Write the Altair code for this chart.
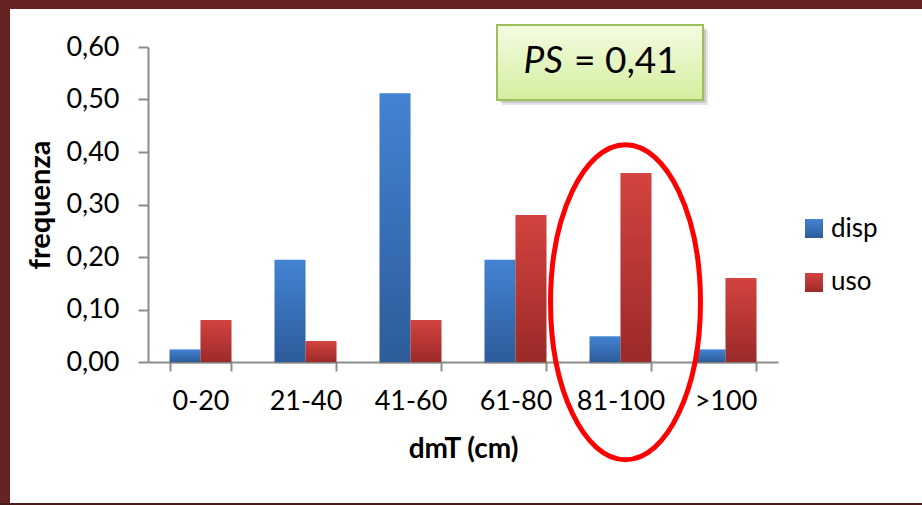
import altair as alt
import pandas as pd

# dmT classes and relative frequencies (available vs used)
classi = ["0-20", "21-40", "41-60", "61-80", "81-100", ">100"]
disp = [0.024, 0.195, 0.512, 0.195, 0.049, 0.024]
uso = [0.08, 0.04, 0.08, 0.28, 0.36, 0.16]
serie = ["disp", "uso"]
y_ticks = [0.0, 0.1, 0.2, 0.3, 0.4, 0.5, 0.6]
ps_name = "PS"
ps_value = "= 0,41"
evidenziata = "81-100"
ellisse_y = [0.114]

rows = [{"classe": c, "serie": "disp", "freq": v} for c, v in zip(classi, disp)]
rows += [{"classe": c, "serie": "uso", "freq": v} for c, v in zip(classi, uso)]
df = pd.DataFrame(rows)

FONT = "Lato"
W, H = 630, 315
LEFT, TOP = 148, 47


def grad(top, bottom):
    return alt.LinearGradient(
        gradient="linear",
        stops=[alt.GradientStop(color=top, offset=0),
               alt.GradientStop(color=bottom, offset=1)],
        x1=0, x2=0, y1=0, y2=1,
    )


BLUE = grad("#4383D3", "#2D5C9A")
RED = grad("#D3433F", "#9B2A29")
BOX = grad("#F5FCE3", "#D3EE9E")

x_scale = alt.Scale(domain=classi, paddingInner=0.41, paddingOuter=0.205)
y_scale = alt.Scale(domain=[0, 0.6], nice=False)

x_axis = alt.Axis(
    title="dmT (cm)", labelAngle=0, tickBand="extent",
    domainColor="#8C8C8C", domainWidth=2, tickColor="#8C8C8C", tickWidth=2,
    tickSize=9, labelFont=FONT, labelFontSize=27, labelColor="#000000",
    labelPadding=17, titleFont=FONT, titleFontSize=28, titleFontWeight="bold",
    titleColor="#000000", titlePadding=21,
)
y_axis = alt.Axis(
    title="frequenza", values=y_ticks, grid=False,
    labelExpr="replace(format(datum.value, '.2f'), '.', ',')",
    domainColor="#8C8C8C", domainWidth=2, tickColor="#8C8C8C", tickWidth=2,
    tickSize=10, labelFont=FONT, labelFontSize=27, labelColor="#000000",
    labelPadding=19, titleFont=FONT, titleFontSize=29, titleFontWeight="bold",
    titleColor="#000000", titlePadding=10,
)

base = alt.Chart(df).encode(
    x=alt.X("classe:N", sort=classi, scale=x_scale, axis=x_axis),
    xOffset=alt.XOffset("serie:N", scale=alt.Scale(domain=serie, paddingInner=0, paddingOuter=0)),
    y=alt.Y("freq:Q", scale=y_scale, axis=y_axis),
)

shadow = base.mark_bar(color="#000000", opacity=0.10, xOffset=3, yOffset=2)
bars_disp = base.transform_filter(alt.datum.serie == "disp").mark_bar(fill=BLUE)
bars_uso = base.transform_filter(alt.datum.serie == "uso").mark_bar(fill=RED)

one = alt.Data(values=[{"k": 1}])


def rect(x, x2, y, y2, fill, **kw):
    return alt.Chart(one).mark_rect(fill=fill, **kw).encode(
        x=alt.value(x), x2=alt.value(x2), y=alt.value(y), y2=alt.value(y2)
    )


# dark red frame around the figure
frame = [
    rect(-LEFT, 922 - LEFT, -TOP, -TOP + 9, "#662323"),
    rect(-LEFT, -LEFT + 10, -TOP, 505 - TOP, "#662323"),
    rect(-LEFT, 922 - LEFT, 503 - TOP, 505 - TOP, "#4A1A1A"),
]

# PS annotation box
bx, bx2, by, by2 = 497 - LEFT, 703 - LEFT, 25 - TOP, 100 - TOP
box = [
    rect(bx + 5, bx2 + 5, by + 5, by2 + 5, "#000000", opacity=0.10),
    rect(bx + 3, bx2 + 3, by + 3, by2 + 3, "#000000", opacity=0.12),
    rect(bx, bx2, by, by2, BOX, stroke="#9DBE5C", strokeWidth=2),
]
ps_text = [
    alt.Chart(one).mark_text(text=ps_name, font=FONT, fontSize=37, fontStyle="italic",
                             align="right", baseline="alphabetic", color="#000000")
    .encode(x=alt.value(563 - LEFT), y=alt.value(73 - TOP)),
    alt.Chart(one).mark_text(text=ps_value, font=FONT, fontSize=37,
                             align="left", baseline="alphabetic", color="#000000")
    .encode(x=alt.value(574 - LEFT), y=alt.value(73 - TOP)),
]

# red ellipse highlighting one class
a, k = 0.476, 0.5523
ell_path = (
    f"M 0 -1 C {a*k:.4f} -1 {a} {-k} {a} 0 "
    f"C {a} {k} {a*k:.4f} 1 0 1 "
    f"C {-a*k:.4f} 1 {-a} {k} {-a} 0 "
    f"C {-a} {-k} {-a*k:.4f} -1 0 -1 Z"
)
ell_df = pd.DataFrame({"classe": [evidenziata], "freq": ellisse_y})
ellipse = alt.Chart(ell_df).mark_point(
    shape=ell_path, size=315 ** 2, filled=False, stroke="#FF0000",
    strokeWidth=5, opacity=1, xOffset=5,
).encode(
    x=alt.X("classe:N", sort=classi, scale=x_scale, axis=x_axis),
    y=alt.Y("freq:Q", scale=y_scale, axis=y_axis),
)

# legend
legend = [
    rect(805 - LEFT, 823 - LEFT, 219 - TOP, 238 - TOP, BLUE),
    rect(805 - LEFT, 823 - LEFT, 273 - TOP, 292 - TOP, RED),
    alt.Chart(one).mark_text(text=serie[0], font=FONT, fontSize=26, align="left",
                             baseline="middle", color="#000000")
    .encode(x=alt.value(831 - LEFT), y=alt.value(229 - TOP)),
    alt.Chart(one).mark_text(text=serie[1], font=FONT, fontSize=26, align="left",
                             baseline="middle", color="#000000")
    .encode(x=alt.value(831 - LEFT), y=alt.value(282 - TOP)),
]

chart = alt.layer(
    shadow, bars_disp, bars_uso, ellipse, *box, *ps_text, *legend, *frame
).properties(
    width=W, height=H,
    autosize=alt.AutoSizeParams(type="none"),
    padding={"left": LEFT, "top": TOP, "right": 922 - LEFT - W, "bottom": 505 - TOP - H},
    background="#FFFFFF",
).configure_view(stroke=None)

chart.save("out.html", embed_options={"renderer": "svg", "actions": False})
